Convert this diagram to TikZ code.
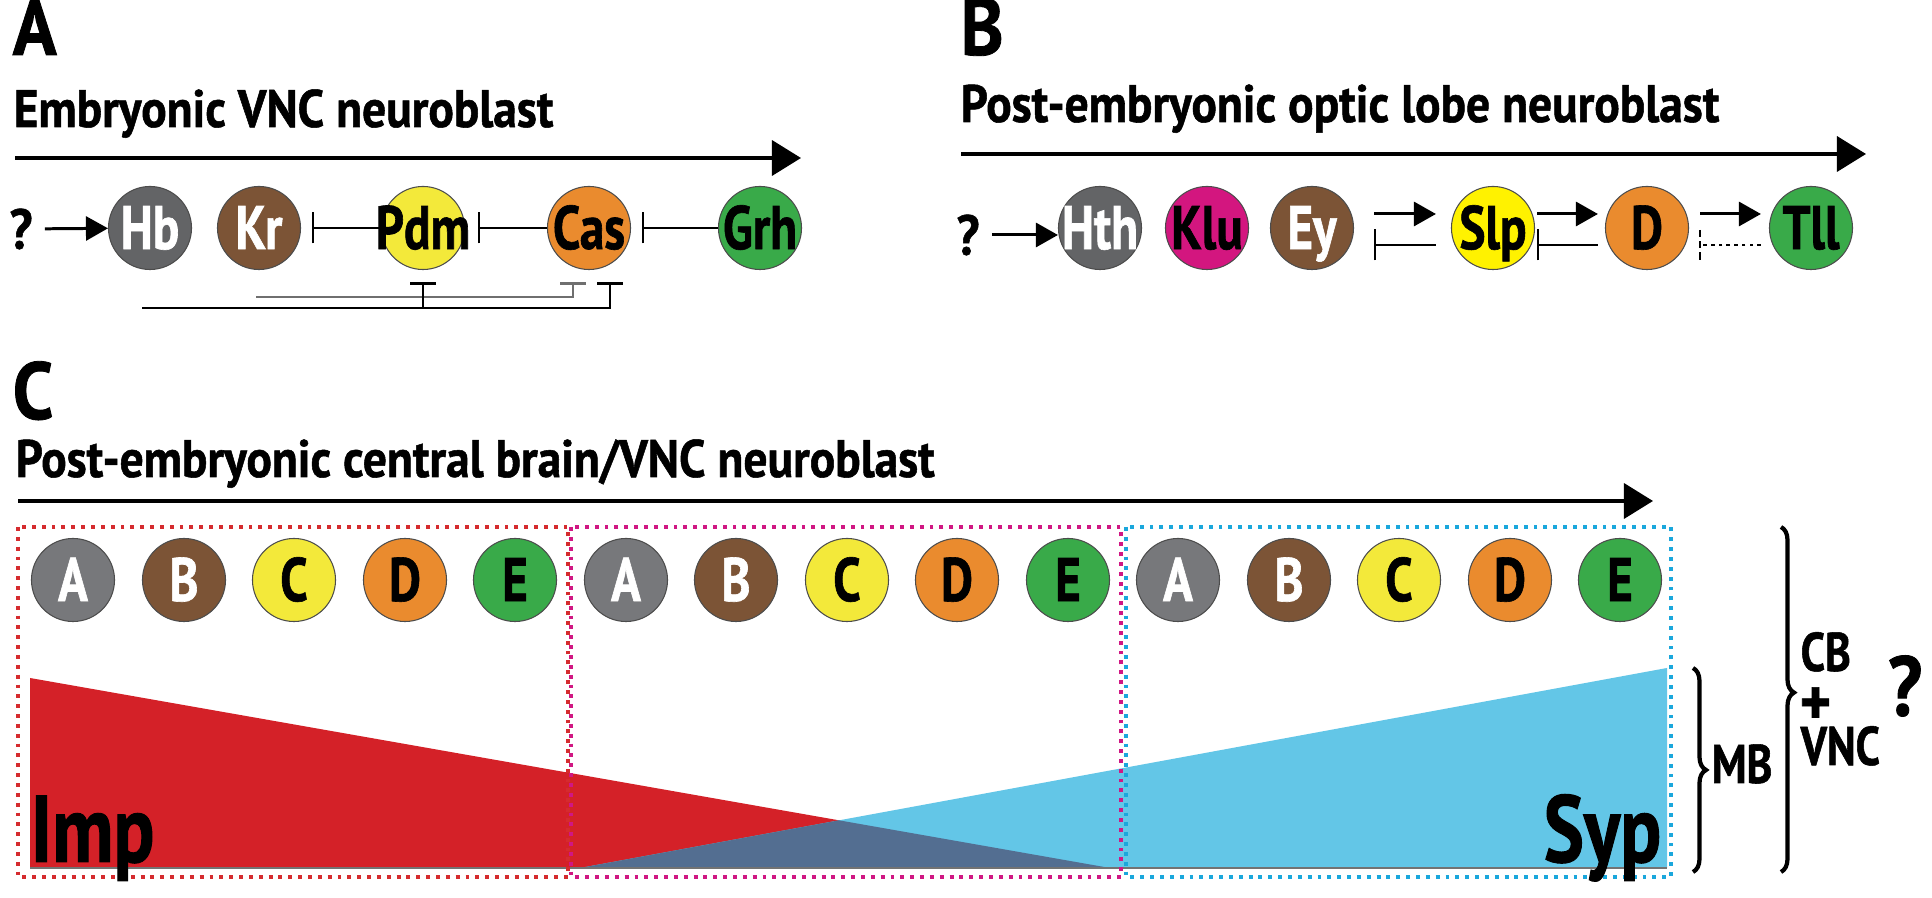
\documentclass[tikz,border=0pt]{standalone}
\usepackage{fontspec}
\setmainfont{PT Sans}[FakeStretch=0.9, BoldFeatures={FakeBold=1}]
\newfontfamily\condf{PT Sans}[FakeStretch=0.8, BoldFeatures={FakeBold=1}]
\usetikzlibrary{arrows.meta,calc,decorations.pathreplacing}
\definecolor{hbgray}{HTML}{636466}
\definecolor{cgray}{HTML}{77787B}
\definecolor{brown}{HTML}{7C5436}
\definecolor{yel}{HTML}{F3E93A}
\definecolor{slpyel}{HTML}{FFF200}
\definecolor{orng}{HTML}{EA8B2E}
\definecolor{grn}{HTML}{39AA49}
\definecolor{klumag}{HTML}{D3167F}
\definecolor{impred}{HTML}{D42128}
\definecolor{sypcyan}{HTML}{63C6E7}
\definecolor{overlap}{HTML}{536E91}
\definecolor{boxred}{HTML}{D52B2E}
\definecolor{boxmag}{HTML}{D01783}
\definecolor{boxcyan}{HTML}{1AA7DC}
\definecolor{lgray}{HTML}{6F6F6F}
\newcommand{\gname}[1]{\makebox[0pt]{#1}}
\tikzset{
  gene/.style={circle, draw=black!70, line width=0.3pt, minimum size=0.83cm, inner sep=0pt,
    text height=12pt, text depth=0pt, font=\condf\bfseries\fontsize{17.5}{18}\selectfont},
  panel/.style={anchor=base west, inner sep=0pt, font=\bfseries\fontsize{23}{26}\selectfont},
  title/.style={anchor=base west, inner sep=0pt, font=\bfseries\fontsize{15}{18}\selectfont},
  qmark/.style={font=\bfseries\fontsize{16}{18}\selectfont},
  timeline/.style={line width=1pt, -{Triangle[length=0.29cm,width=0.35cm]}},
  act/.style={line width=0.85pt, -{Triangle[length=0.22cm,width=0.24cm]}},
  inh/.style={line width=0.6pt, -{Bar[width=0.31cm]}},
  inhs/.style={line width=0.7pt, -{Bar[width=0.25cm]}},
  dotbox/.style={line width=1.1pt, dash pattern=on 1.1pt off 1.7pt},
  brace/.style={decorate, decoration={brace, amplitude=0.13cm}, line width=1.2pt},
  side/.style={font=\condf\bfseries\fontsize{15.5}{16}\selectfont, inner sep=0pt,
    text height=8pt, text depth=0pt, anchor=base west}
}
\begin{document}
\begin{tikzpicture}[x=0.01cm, y=-0.01cm]
\fill[white] (0,0) rectangle (1932,898);
\useasboundingbox (0,0) rectangle (1932,898);

\node[panel] (pa) at (12,55){A};
\node[title] (ttla) at (13,127){Embryonic VNC neuroblast};
\draw[timeline] (15,158) -- (801,158);
\node[qmark] (q1) at (21,229){?};
\node[gene, fill=hbgray, text=white] (hb) at (150,228){\gname{Hb}};
\node[gene, fill=brown, text=white] (kr) at (259,228){\gname{Kr}};
\node[gene, fill=yel] (pdm) at (423,228){\gname{Pdm}};
\node[gene, fill=orng] (cas) at (589,228){\gname{Cas}};
\node[gene, fill=grn] (grh) at (760,228){\gname{Grh}};
\draw[act] (q1) -- (hb);
\draw[inh, shorten >=0.11cm] (pdm.west) -- (kr.east);
\draw[inh, shorten >=0.13cm] (cas.west) -- (pdm.east);
\draw[inh, shorten >=0.11cm] (grh.west) -- (cas.east);
\coordinate (hbl) at ($(hb.south)+(-8,38)$);
\coordinate (krl) at ($(kr.south)+(-3,27)$);
\draw[inhs, draw=lgray] (krl) -| ($(cas.south)+(-16,12)$);
\draw[inhs] (hbl) -| ($(cas.south)+(21,12)$);
\draw[inhs] (hbl -| pdm.south) -- ($(pdm.south)+(0,12)$);

\node[panel] (pb) at (960,55){B};
\node[title] (ttlb) at (960,122){Post-embryonic optic lobe neuroblast};
\draw[timeline] (961,154) -- (1866,154);
\node[qmark] (q2) at (968,235){?};
\node[gene, fill=hbgray, text=white] (hth) at (1100,228){\gname{Hth}};
\node[gene, fill=klumag] (klu) at (1207,228){\gname{Klu}};
\node[gene, fill=brown, text=white] (ey) at (1312,228){\gname{Ey}};
\node[gene, fill=slpyel] (slp) at (1493,228){\gname{Slp}};
\node[gene, fill=orng] (d) at (1647,228){\gname{D}};
\node[gene, fill=grn] (tll) at (1811,228){\gname{Tll}};
\draw[act] (q2) -- (q2 -| hth.west);
\draw[act] ($(ey.east)+(20,-14)$) -- ($(slp.west)+(-15,-14)$);
\draw[inh] ($(slp.west)+(-15,17)$) -- ($(ey.east)+(20,17)$);
\draw[act] ($(slp.east)+(2,-14)$) -- ($(d.west)+(-7,-14)$);
\draw[inh] ($(d.west)+(-7,17)$) -- ($(slp.east)+(2,17)$);
\draw[act] ($(d.east)+(11,-14)$) -- ($(tll.west)+(-8,-14)$);
\draw[line width=0.6pt, dash pattern=on 1pt off 1.2pt] ($(tll.west)+(-8,17)$) -- ($(d.east)+(13,17)$);
\draw[line width=0.6pt, dash pattern=on 2pt off 1.2pt] ($(d.east)+(11,2)$) -- ($(d.east)+(11,32)$);

\node[panel] (pc) at (12,419){C};
\node[title] (ttlc) at (15,477){Post-embryonic central brain/VNC neuroblast};
\draw[timeline] (18,501) -- (1653,501);
\fill[impred] (30,678) -- (30,868) -- (1110,868) -- cycle;
\fill[sypcyan] (580,868) -- (1667,868) -- (1667,668) -- cycle;
\begin{scope}
\clip (30,678) -- (30,868) -- (1110,868) -- cycle;
\fill[overlap] (580,868) -- (1667,868) -- (1667,668) -- cycle;
\end{scope}
\draw[black!55, line width=0.4pt] (30,868) -- (1667,868);
\draw[dotbox, draw=boxred] (18,527) rectangle (568,877);
\draw[dotbox, draw=boxmag] (571,527) rectangle (1121,877);
\draw[dotbox, draw=boxcyan] (1126,527) rectangle (1671,877);
\node[gene, fill=cgray, text=white] (a1) at (73,580){\gname{A}};
\node[gene, fill=brown, text=white] (b1) at (184,580){\gname{B}};
\node[gene, fill=yel] (c1) at (294,580){\gname{C}};
\node[gene, fill=orng] (d1) at (405,580){\gname{D}};
\node[gene, fill=grn] (e1) at (515,580){\gname{E}};
\node[gene, fill=cgray, text=white] (a2) at (626,580){\gname{A}};
\node[gene, fill=brown, text=white] (b2) at (736,580){\gname{B}};
\node[gene, fill=yel] (c2) at (847,580){\gname{C}};
\node[gene, fill=orng] (d2) at (957,580){\gname{D}};
\node[gene, fill=grn] (e2) at (1068,580){\gname{E}};
\node[gene, fill=cgray, text=white] (a3) at (1178,580){\gname{A}};
\node[gene, fill=brown, text=white] (b3) at (1289,580){\gname{B}};
\node[gene, fill=yel] (c3) at (1399,580){\gname{C}};
\node[gene, fill=orng] (d3) at (1510,580){\gname{D}};
\node[gene, fill=grn] (e3) at (1620,580){\gname{E}};
\node[anchor=base west, inner sep=0pt, font=\condf\bfseries\fontsize{27}{30}\selectfont] (imp) at (30,862){Imp};
\node[anchor=base east, inner sep=0pt, font=\condf\bfseries\fontsize{27}{30}\selectfont] (syp) at (1662,862){Syp};
\draw[brace] (1693,668) -- (1693,872);
\draw[brace, decoration={aspect=0.48}] (1781,527) -- (1781,872);
\node[side] (mb) at (1711,783){MB};
\node[side] (cb) at (1800,671){CB};
\node[side, font=\bfseries\fontsize{19}{19}\selectfont] (plus) at (1799,725){+};
\node[side] (vnc) at (1800,765){VNC};
\node[font=\bfseries\fontsize{24}{26}\selectfont, inner sep=0pt] (q3) at (1905,686){?};

\end{tikzpicture}
\end{document}
